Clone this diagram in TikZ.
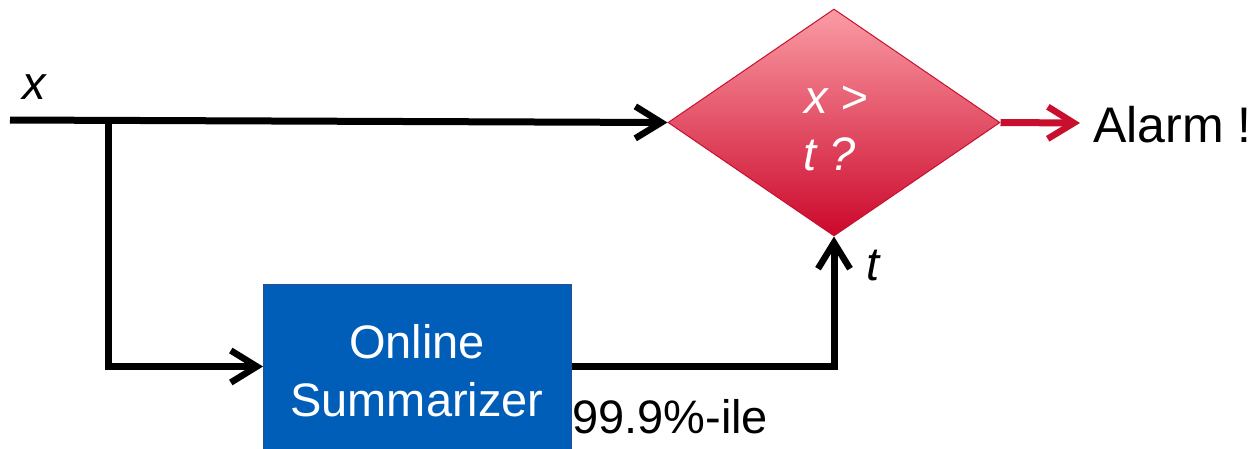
\documentclass[tikz,border=0pt]{standalone}
\usepackage{fontspec}
\setmainfont{Liberation Sans}
\usetikzlibrary{arrows.meta,shapes.geometric,calc}
\definecolor{boxblue}{RGB}{0,94,184}
\definecolor{boxedge}{RGB}{40,80,140}
\definecolor{alarmred}{RGB}{200,16,46}
\definecolor{diamtop}{RGB}{250,156,164}
\definecolor{diambot}{RGB}{204,8,44}
\tikzset{
  wire/.style={line width=7pt, draw=black},
  chev/.style={-{Straight Barb[length=26pt,width=32pt,line width=6.5pt]}},
  arr/.style={wire, chev},
  redarr/.style={line width=7pt, draw=alarmred, chev},
  lbl/.style={font=\fontsize{47}{57}\selectfont, inner sep=0pt, anchor=base},
  wlbl/.style={lbl, text=white},
}
\begin{document}
\begin{tikzpicture}[x=1pt,y=-1pt]
\useasboundingbox (0,0) rectangle (1249,448);

% decision diamond
\node[diamond, minimum width=332pt, minimum height=227pt, inner sep=0pt,
      top color=diamtop, bottom color=diambot, draw=alarmred, line width=1pt]
      (dec) at (834,122.5) {};
\node[wlbl] (q1) at (836,113) {\itshape x >};
\node[wlbl] (q2) at (830,170) {\itshape t ?};

% summarizer box
\node[rectangle, minimum width=308pt, minimum height=180pt, inner sep=0pt,
      fill=boxblue, draw=boxedge, line width=1pt, anchor=north west]
      (box) at (263,284) {};
\node[wlbl] (s1) at (417,358) {Online};
\node[wlbl] (s2) at (417,416) {Summarizer};

% input line and branch
\coordinate (in) at (10,120);
\coordinate (j) at (108,120.3);
\node[lbl, anchor=base west] (xl) at (22,99) {\itshape x};
\draw[arr] (in) -- (dec.west);
\draw[arr] (j) |- ($(box.north west)!0.5!(box.south west) + (0,-8)$);

% summarizer output to threshold input
\draw[arr] ($(box.north east)!0.5!(box.south east) + (0,-8)$) -| (dec.south);
\node[lbl, anchor=base west] (tl) at (866,280) {\itshape t};
\node[lbl, anchor=base west] (pl) at (572,433) {99.9\%-ile};

% alarm output
\coordinate (aend) at (1080,123);
\node[lbl, anchor=base west, font=\fontsize{50}{60}\selectfont] (al) at (1093,142) {Alarm !};
\draw[redarr] (dec.east) -- (aend);
\end{tikzpicture}
\end{document}
